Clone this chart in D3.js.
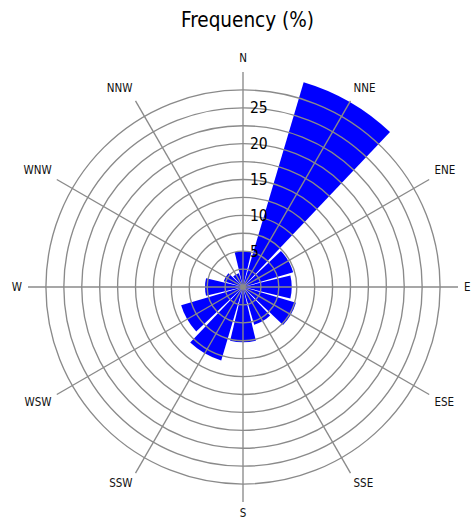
<!DOCTYPE html>
<html>
<head>
<meta charset="utf-8">
<script src="https://cdn.jsdelivr.net/npm/d3@7"></script>
<style>
  html, body { margin: 0; padding: 0; background: #ffffff; }
  svg { display: block; }
  text { font-family: "DejaVu Sans Condensed", "DejaVu Sans", sans-serif; font-stretch: condensed; }
</style>
</head>
<body>
<svg id="chart" width="472" height="520"></svg>
<script>
// Wind direction sectors (clockwise from north) and frequency of each, in percent
const directions = ["N", "NNE", "ENE", "E", "ESE", "SSE", "S", "SSW", "WSW", "W", "WNW", "NNW"];
const frequency  = [5.0, 29.8, 7.3, 6.8, 7.7, 5.5, 7.7, 10.7, 9.0, 5.3, 2.8, 2.0];

// Radial grid: rings every 2.5 %, labelled every 5 %
const ringValues  = [2.5, 5, 7.5, 10, 12.5, 15, 17.5, 20, 22.5, 25, 27.5];
const radialTicks = [5, 10, 15, 20, 25];
const radialMax   = 30;

const title = "Frequency (%)";

const width = 472, height = 520;
const cx = 243, cy = 287;
const outer = 215;

const svg = d3.select("#chart");

const r = d3.scaleLinear().domain([0, radialMax]).range([0, outer]);
const angle = d3.scaleBand()
  .domain(directions)
  .range([-Math.PI / directions.length, 2 * Math.PI - Math.PI / directions.length])
  .paddingInner(0.1)
  .paddingOuter(0.05);
const step = 2 * Math.PI / directions.length;
const centerAngle = d => directions.indexOf(d) * step;

const g = svg.append("g").attr("transform", `translate(${cx},${cy})`);

// Bars
const arc = d3.arc()
  .innerRadius(0)
  .outerRadius(d => r(d.value))
  .startAngle(d => centerAngle(d.dir) - angle.bandwidth() / 2)
  .endAngle(d => centerAngle(d.dir) + angle.bandwidth() / 2);

g.append("g")
  .selectAll("path")
  .data(directions.map((dir, i) => ({ dir, value: frequency[i] })))
  .join("path")
  .attr("d", arc)
  .attr("fill", "#0000ff");

// Grid rings and spokes drawn over the bars
const grid = g.append("g")
  .attr("fill", "none")
  .attr("stroke", "#8a8a8a")
  .attr("stroke-width", 1.35);

grid.selectAll("circle")
  .data(ringValues)
  .join("circle")
  .attr("r", d => r(d));

grid.selectAll("line")
  .data(directions)
  .join("line")
  .attr("x1", 0).attr("y1", 0)
  .attr("x2", d => r(radialMax) * Math.sin(centerAngle(d)))
  .attr("y2", d => -r(radialMax) * Math.cos(centerAngle(d)));

// Hub
g.append("circle").attr("r", 2.5).attr("fill", "#8a8a8a");

// Radial value labels along the north spoke
g.append("g")
  .selectAll("text")
  .data(radialTicks)
  .join("text")
  .attr("x", 7)
  .attr("y", d => -r(d))
  .attr("dy", "0.36em")
  .attr("font-size", 15.5)
  .attr("fill", "#000")
  .text(d => d);

// Compass labels outside the spokes
const labelR = 221;
g.append("g")
  .selectAll("text")
  .data(directions)
  .join("text")
  .each(function (d) {
    const a = centerAngle(d);
    const s = Math.sin(a), c = Math.cos(a);
    const t = d3.select(this);
    const rv = c < -0.01 ? labelR + 0.5 : labelR + 3;
    t.attr("x", labelR * s)
     .attr("y", -rv * c)
     .attr("text-anchor", s > 0.01 ? "start" : s < -0.01 ? "end" : "middle")
     .attr("dy", c > 0.01 ? "-0.05em" : c < -0.01 ? "0.72em" : "0.36em");
  })
  .attr("font-size", 11.5)
  .attr("fill", "#111")
  .text(d => d);

// Title
svg.append("text")
  .attr("x", 247.5)
  .attr("y", 27)
  .attr("text-anchor", "middle")
  .attr("font-size", 20.5)
  .attr("fill", "#000")
  .text(title);
</script>
</body>
</html>
